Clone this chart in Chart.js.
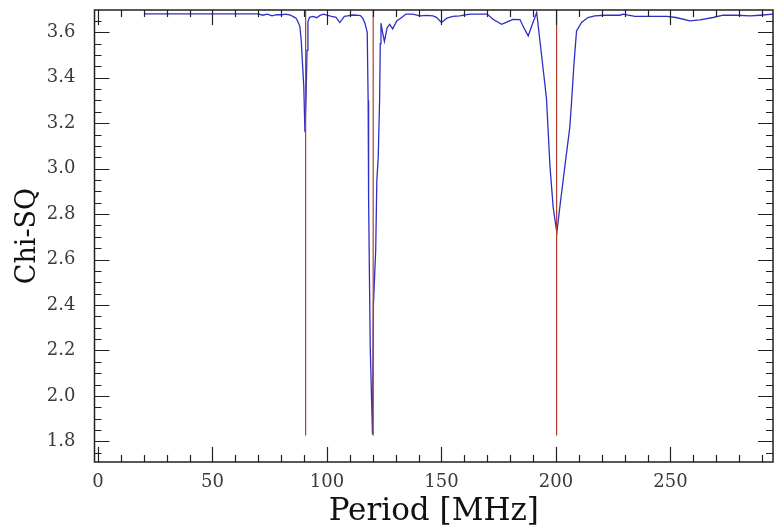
<!DOCTYPE html>
<html>
<head>
<meta charset="utf-8">
<script src="https://cdn.jsdelivr.net/npm/chart.js@4.4.1/dist/chart.umd.min.js"></script>
<style>
  html, body { margin: 0; padding: 0; background: #fff; }
</style>
</head>
<body>
<canvas id="chiChart" width="775" height="527"></canvas>
<script>
// periods (MHz) and chi-square values
const periods = [
  20.2, 30, 40, 50, 60, 70, 72, 74, 76, 78, 80, 82, 84, 85.5, 86.5, 87.4, 88.2, 88.8, 89.4, 89.9,
  90.4, 90.9, 91.3, 91.7, 92.4, 94, 95.5, 97, 98.5, 100, 102, 104, 105.6, 106.6, 107.6, 109, 111, 113,
  114.6, 115.6, 116.6, 117.6, 118.0, 118.2, 118.6, 118.9, 119.9, 120.3, 121.3, 121.8, 122.4, 123.0,
  123.3, 123.6, 124.3, 125.1, 126.3, 127.4, 128.7, 130.5, 132.8, 134.5, 137.5, 140.6, 143.5, 146.3,
  147.8, 150, 152.4, 155, 158, 162.4, 166, 170, 172.5, 176.3, 178.5, 181.2, 184.3, 186, 187.9, 189.5,
  191.6, 195.2, 195.9, 197.4, 198.8, 200.4, 201.7, 203.9, 206.1, 206.9, 207.8, 209, 211.2, 214, 217,
  221.4, 228, 229.3, 234.5, 241, 248.5, 252.4, 258.5, 262.9, 268.6, 273, 279, 284.8, 289.2, 294.8
];
const chiSq = [
  3.681, 3.681, 3.681, 3.681, 3.681, 3.681, 3.675, 3.68, 3.672, 3.678, 3.677, 3.68, 3.676, 3.668, 3.662, 3.645, 3.625, 3.56, 3.45, 3.36,
  3.16, 3.32, 3.52, 3.645, 3.666, 3.67, 3.664, 3.674, 3.68, 3.675, 3.67, 3.666, 3.643, 3.656, 3.67, 3.672, 3.676, 3.675,
  3.673, 3.662, 3.64, 3.60, 3.30, 2.87, 2.50, 2.22, 1.83, 2.40, 2.64, 2.95, 3.05, 3.30,
  3.55, 3.64, 3.60, 3.56, 3.62, 3.635, 3.615, 3.65, 3.666, 3.68, 3.68, 3.672, 3.674, 3.672,
  3.666, 3.643, 3.662, 3.67, 3.672, 3.68, 3.68, 3.68, 3.657, 3.635, 3.645, 3.657, 3.656, 3.62, 3.584, 3.63,
  3.687, 3.37, 3.305, 3.01, 2.83, 2.718, 2.83, 3.01, 3.185, 3.305, 3.45, 3.606, 3.643, 3.665, 3.672,
  3.675, 3.675, 3.68, 3.67, 3.67, 3.67, 3.665, 3.65, 3.655, 3.665, 3.675, 3.675, 3.672, 3.675, 3.68
];

// red marker lines at the candidate periods
const markerPeriods = [90.7, 120.2, 200.3];
const markerRange = [1.826, 3.698];

const xTicks = [0, 50, 100, 150, 200, 250];
const yTicks = [1.8, 2.0, 2.2, 2.4, 2.6, 2.8, 3.0, 3.2, 3.4, 3.6];
const xMinorStep = 10;
const yMinorStep = 0.05;

const xRange = [-1.5, 294.8];
const yRange = [1.709, 3.698];

const datasets = [];
markerPeriods.forEach(p => {
  datasets.push({
    data: markerRange.map(v => ({ x: p, y: v })),
    showLine: true,
    borderColor: '#b0402c',
    borderWidth: 1.2,
    pointRadius: 0
  });
});
datasets.push({
  data: periods.map((p, i) => ({ x: p, y: chiSq[i] })),
  showLine: true,
  borderColor: '#2e2ec4',
  borderWidth: 1.3,
  pointRadius: 0,
  tension: 0
});

// inward ticks on all four sides plus the frame, IDL style
const frameTicks = {
  id: 'frameTicks',
  afterDraw(chart) {
    const { ctx, chartArea: a, scales: { x, y } } = chart;
    ctx.save();
    ctx.strokeStyle = '#222';
    ctx.lineWidth = 1.2;
    ctx.beginPath();
    for (let v = 0; v <= xRange[1]; v += xMinorStep) {
      const px = Math.round(x.getPixelForValue(v)) + 0.5;
      const len = xTicks.includes(v) ? 15 : 7;
      ctx.moveTo(px, a.bottom); ctx.lineTo(px, a.bottom - len);
      ctx.moveTo(px, a.top); ctx.lineTo(px, a.top + len);
    }
    for (let k = Math.ceil(yRange[0] / yMinorStep); k * yMinorStep <= yRange[1]; k++) {
      const v = k * yMinorStep;
      const py = Math.round(y.getPixelForValue(v)) + 0.5;
      const len = k % 4 === 0 ? 15 : 7;
      ctx.moveTo(a.left, py); ctx.lineTo(a.left + len, py);
      ctx.moveTo(a.right, py); ctx.lineTo(a.right - len, py);
    }
    ctx.stroke();
    ctx.lineWidth = 1.5;
    ctx.strokeRect(a.left, a.top, a.right - a.left, a.bottom - a.top);
    ctx.restore();
  }
};

new Chart(document.getElementById('chiChart'), {
  type: 'scatter',
  data: { datasets },
  options: {
    responsive: false,
    animation: false,
    layout: { padding: { top: 10, right: 2, left: 0, bottom: 0 } },
    plugins: { legend: { display: false }, tooltip: { enabled: false } },
    scales: {
      x: {
        type: 'linear',
        min: xRange[0],
        max: xRange[1],
        grid: { display: false },
        border: { display: false },
        afterBuildTicks: s => { s.ticks = xTicks.map(v => ({ value: v })); },
        afterFit: s => { s.height = 65; s.paddingLeft = 0; s.paddingRight = 0; },
        ticks: {
          padding: 2,
          color: '#3a3a3a',
          font: { family: 'DejaVu Serif', size: 18 },
          callback: v => String(v)
        },
        title: {
          display: true,
          text: 'Period [MHz]',
          color: '#111',
          padding: { top: 0, bottom: -4 },
          font: { family: 'DejaVu Serif', size: 31 }
        }
      },
      y: {
        type: 'linear',
        min: yRange[0],
        max: yRange[1],
        grid: { display: false },
        border: { display: false },
        afterBuildTicks: s => { s.ticks = yTicks.map(v => ({ value: v })); },
        afterFit: s => { s.width = 94.5; s.paddingTop = 0; s.paddingBottom = 0; },
        ticks: {
          padding: 11,
          color: '#3a3a3a',
          font: { family: 'DejaVu Serif', size: 18 },
          callback: v => v.toFixed(1)
        },
        title: {
          display: true,
          text: 'Chi-SQ',
          color: '#111',
          padding: { top: 12, bottom: 0 },
          font: { family: 'DejaVu Serif', size: 27 }
        }
      }
    }
  },
  plugins: [frameTicks]
});
</script>
</body>
</html>
